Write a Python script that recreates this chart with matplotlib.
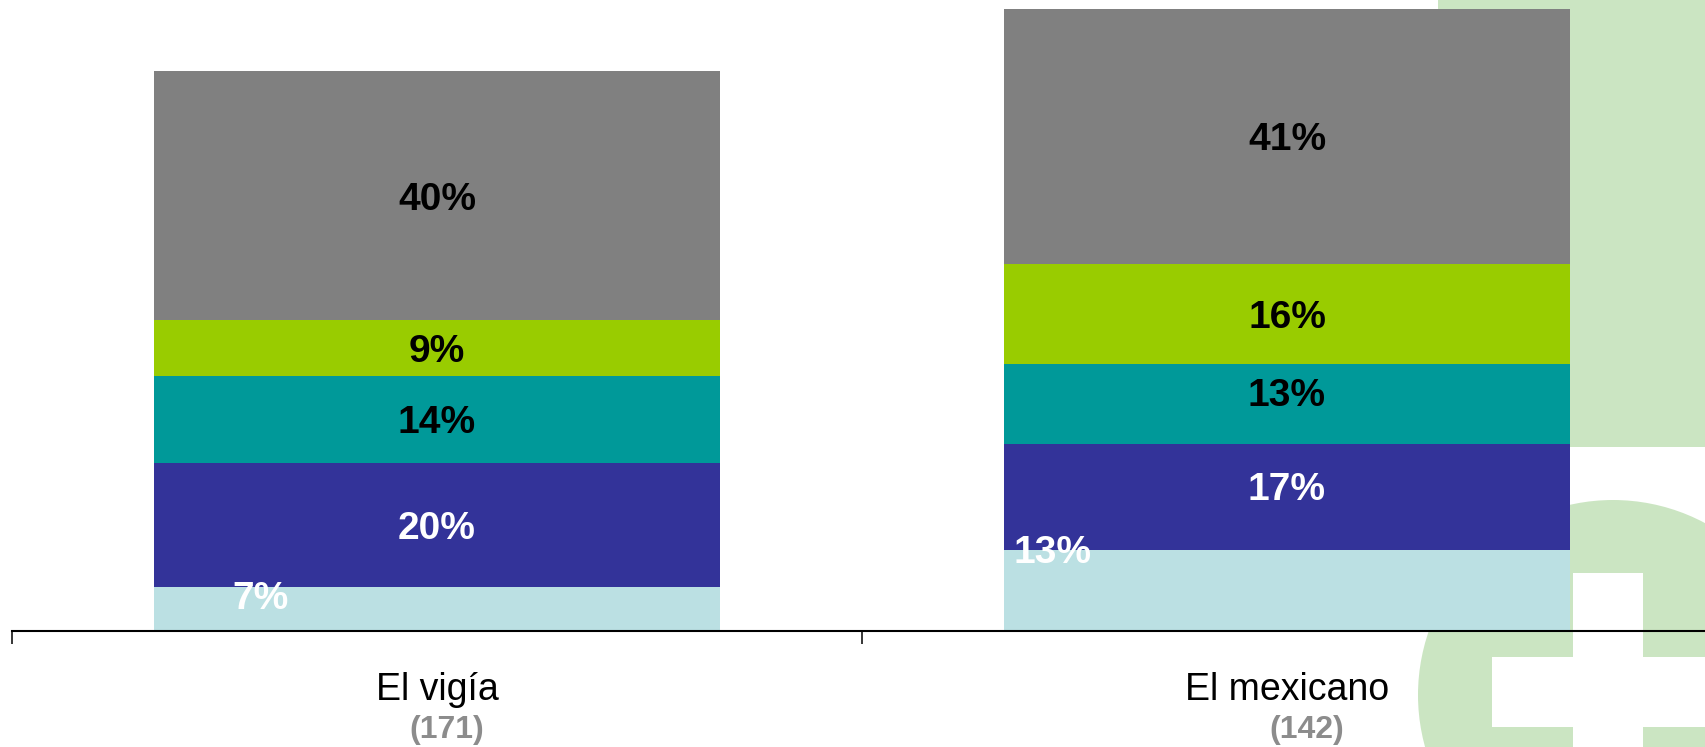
import matplotlib
matplotlib.use("Agg")
import matplotlib.pyplot as plt
from matplotlib.patches import Rectangle, Ellipse

# ---- data -------------------------------------------------------------
categories = ["El vigía", "El mexicano"]
sample_sizes = ["(171)", "(142)"]
# stacked segments, bottom to top
seg_bottom = [7, 13]      # light blue
seg_second = [20, 17]     # navy
seg_third = [14, 13]      # teal
seg_fourth = [9, 16]      # yellow-green
seg_top = [40, 41]        # gray

series = [seg_bottom, seg_second, seg_third, seg_fourth, seg_top]
colors = ["#BBE0E3", "#333399", "#009999", "#99CC00", "#808080"]
label_colors = ["white", "white", "black", "black", "black"]

W, H = 1706, 747
DPI = 100
plt.rcParams["font.family"] = ["Liberation Sans", "DejaVu Sans"]

fig = plt.figure(figsize=(W / DPI, H / DPI), dpi=DPI)
fig.patch.set_facecolor("white")


def fx(px):
    return px / W


def fy(py):
    return 1 - py / H


# ---- decorative logo backdrop (figure coordinates) --------------------
bg_green = "#CBE5C2"
fig.add_artist(Rectangle((fx(1438), fy(447)), fx(W - 1438), 447 / H,
                         transform=fig.transFigure, facecolor=bg_green,
                         edgecolor="none", zorder=-10))
fig.add_artist(Ellipse((fx(1613), fy(695)), 390 / W, 390 / H,
                       transform=fig.transFigure, facecolor=bg_green,
                       edgecolor="none", zorder=-10))
fig.add_artist(Rectangle((fx(1573), fy(H)), fx(70), (H - 573) / H,
                         transform=fig.transFigure, facecolor="white",
                         edgecolor="none", zorder=-9))
fig.add_artist(Rectangle((fx(1492), fy(727)), fx(W - 1492), 70 / H,
                         transform=fig.transFigure, facecolor="white",
                         edgecolor="none", zorder=-9))

# ---- axes --------------------------------------------------------------
ax = fig.add_axes([fx(12), fy(631), fx(1700), 622 / H])
ax.patch.set_visible(False)
ax.set_xlim(-0.5, 1.5)
ax.set_ylim(0, 100)

x = list(range(len(categories)))
bar_w = 0.666
bottoms = [0.0] * len(categories)
seg_tops = []
for vals, col in zip(series, colors):
    ax.bar(x, vals, width=bar_w, bottom=bottoms, color=col,
           edgecolor="none", zorder=2)
    seg_tops.append([b + v for b, v in zip(bottoms, vals)])
    bottoms = [b + v for b, v in zip(bottoms, vals)]

# value labels
FS = 28
cap_half = 0.716 * FS / 2  # half cap height, points
PT = 0.72  # points per pixel at 100 dpi
# per-label nudges (pixels): (series index, bar index) -> (dx, dy, anchor)
nudges = {
    (0, 0): (-176, -8, "top"),
    (0, 1): (-234, 1, "top"),
    (1, 1): (0, 11, "mid"),
    (2, 1): (0, 12, "mid"),
}
for si, vals in enumerate(series):
    for bi, v in enumerate(vals):
        top = seg_tops[si][bi]
        dx, dy, anchor = nudges.get((si, bi), (0, 0, "mid"))
        y = top if anchor == "top" else top - v / 2
        ax.annotate(f"{v}%", xy=(x[bi], y), xycoords="data",
                    xytext=(dx * PT, dy * PT - cap_half),
                    textcoords="offset points", ha="center", va="baseline",
                    fontsize=FS, fontweight="bold", color=label_colors[si],
                    zorder=5)

# axis styling
for side in ("left", "right", "top"):
    ax.spines[side].set_visible(False)
ax.spines["bottom"].set_linewidth(1.5)
ax.spines["bottom"].set_zorder(4)
ax.set_yticks([])
ax.set_xticks([-0.5, 0.5, 1.5])
ax.set_xticklabels([])
ax.tick_params(axis="x", direction="out", length=9.4, width=1.1,
               color="black")

# category names and sample sizes
n_dx = [10, 20]
for i, (cat, n) in enumerate(zip(categories, sample_sizes)):
    ax.annotate(cat, xy=(x[i], 0), xycoords=("data", "axes fraction"),
                xytext=(0, -69 * PT), textcoords="offset points",
                ha="center", va="baseline", fontsize=27, color="black",
                annotation_clip=False)
    ax.annotate(n, xy=(x[i], 0), xycoords=("data", "axes fraction"),
                xytext=(n_dx[i] * PT, -107 * PT), textcoords="offset points",
                ha="center", va="baseline", fontsize=23, fontweight="bold",
                color="#8C8C8C", annotation_clip=False)

fig.savefig("out.png", dpi=DPI)
